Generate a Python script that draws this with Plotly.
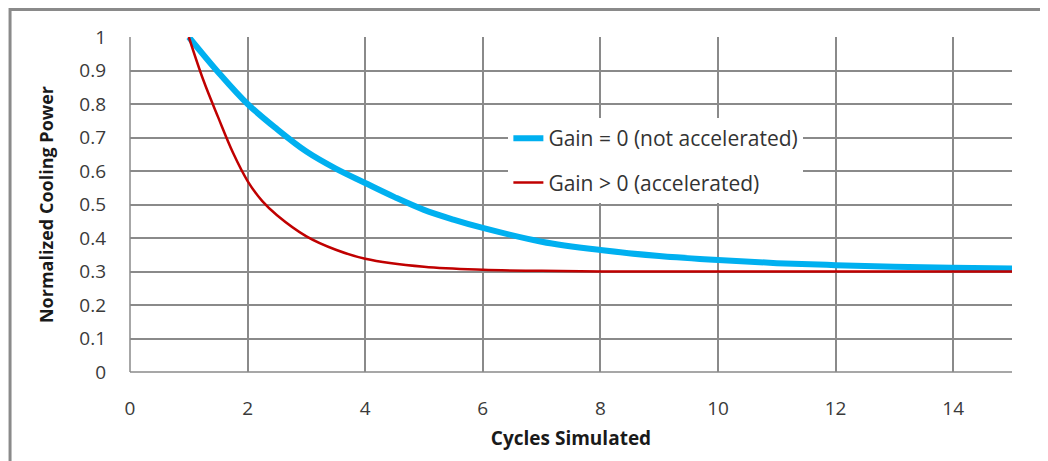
import plotly.graph_objects as go

# ciclos simulados y potencia normalizada
ciclos_sin_ganancia = [1, 1.5, 2, 2.5, 3, 3.5, 4, 4.5, 5, 5.5, 6, 7, 8, 9, 10, 11, 12, 13, 14, 15]
potencia_sin_ganancia = [1.0, 0.895, 0.8, 0.725, 0.658, 0.607, 0.564, 0.522, 0.484, 0.455, 0.43,
                         0.389, 0.364, 0.346, 0.334, 0.325, 0.319, 0.314, 0.311, 0.309]

ciclos_con_ganancia = [1, 1.25, 1.5, 1.75, 2, 2.25, 2.5, 3, 3.5, 4, 5, 6, 7, 8, 10, 12, 14, 15]
potencia_con_ganancia = [1.0, 0.87, 0.76, 0.655, 0.57, 0.51, 0.468, 0.405, 0.365, 0.338, 0.314,
                         0.305, 0.302, 0.3, 0.3, 0.3, 0.3, 0.3]

etiquetas = ["Gain = 0 (not accelerated)", "Gain > 0 (accelerated)"]

fig = go.Figure()
fig.add_trace(go.Scatter(x=ciclos_sin_ganancia, y=potencia_sin_ganancia, mode="lines",
                         name=etiquetas[0], legendgroup="a",
                         line=dict(color="#00B0F0", width=6, shape="spline")))
fig.add_trace(go.Scatter(x=ciclos_con_ganancia, y=potencia_con_ganancia, mode="lines",
                         name=etiquetas[1], legendgroup="b",
                         line=dict(color="#C00000", width=2.5, shape="spline")))

fuente = "Open Sans, DejaVu Sans, sans-serif"

# la página añade 8 px de margen, por eso la figura es algo menor que la ventana
fig.update_layout(
    width=1040, height=453,
    margin=dict(l=122, r=36, t=29, b=89),
    paper_bgcolor="white", plot_bgcolor="white",
    font=dict(family=fuente, size=19, color="#3a3a3a"),
    legend=dict(x=0.429, y=0.758, xanchor="left", yanchor="top",
                bgcolor="white", tracegroupgap=14,
                font=dict(size=21, color="#333333"), traceorder="grouped"),
    xaxis=dict(range=[0, 15], tickmode="array", tickvals=[0, 2, 4, 6, 8, 10, 12, 14],
               showgrid=True, gridcolor="#8a8a8a", gridwidth=1.5, zeroline=False,
               showline=False, ticks="", ticklabelstandoff=23,
               title=dict(text="<b>Cycles Simulated</b>", font=dict(size=19, color="#1a1a1a"),
                          standoff=11)),
    yaxis=dict(range=[0, 1], dtick=0.1, tickformat="~g",
               showgrid=True, gridcolor="#8a8a8a", gridwidth=1.5, zeroline=False,
               showline=False, ticks="", ticklabelstandoff=23,
               title=dict(text="<b>Normalized Cooling Power</b>", font=dict(size=18, color="#1a1a1a"),
                          standoff=20)),
    shapes=[
        dict(type="line", xref="paper", yref="paper", x0=0, x1=0, y0=0, y1=1,
             line=dict(color="#8a8a8a", width=1.5)),
        dict(type="line", xref="paper", yref="paper", x0=0, x1=1, y0=0, y1=0,
             line=dict(color="#8a8a8a", width=1.5)),
        dict(type="rect", xref="paper", yref="paper", x0=-0.136, x1=1.2, y0=-0.4, y1=1.082,
             line=dict(color="#8a8a8a", width=3)),
    ],
)

fig.write_html("out.html")
